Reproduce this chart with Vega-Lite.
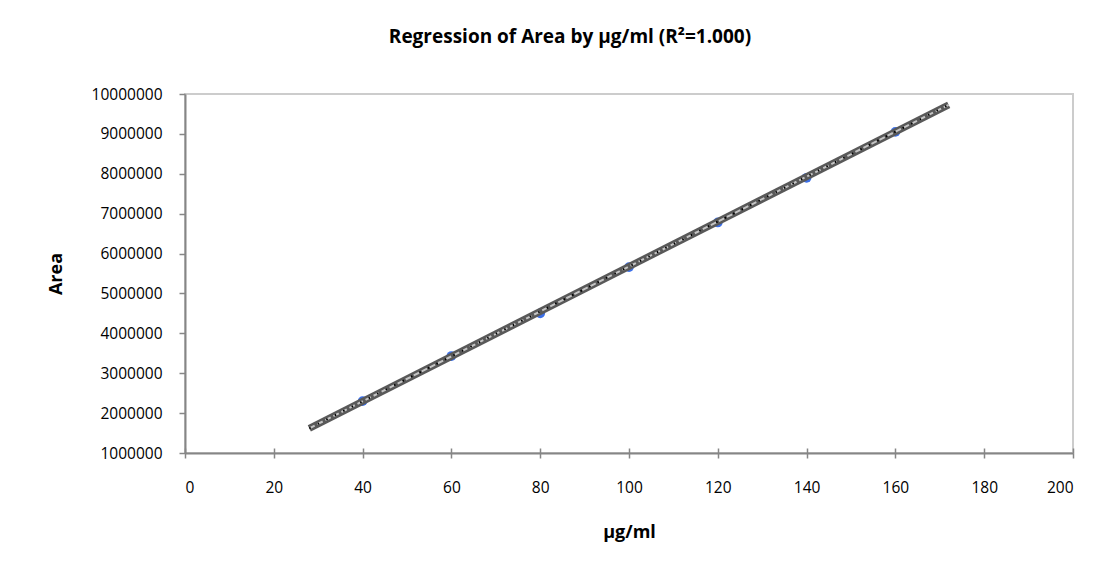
{
  "$schema": "https://vega.github.io/schema/vega-lite/v6.json",
  "width": 888,
  "height": 359,
  "autosize": "none",
  "padding": {"left": 185, "top": 94, "right": 30, "bottom": 116},
  "background": "white",
  "config": {
    "view": {"stroke": "#cccccc", "strokeWidth": 2},
    "font": "Open Sans"
  },
  "title": {
    "text": "Regression of Area by µg/ml (R²=1.000)",
    "font": "Open Sans",
    "fontSize": 19,
    "fontWeight": "bold",
    "color": "#000000",
    "anchor": "middle",
    "frame": "group",
    "dx": -59,
    "offset": 40
  },
  "datasets": {
    "points": [
      {"conc": 40, "area": 2300000},
      {"conc": 60, "area": 3430000},
      {"conc": 80, "area": 4500000},
      {"conc": 100, "area": 5660000},
      {"conc": 120, "area": 6780000},
      {"conc": 140, "area": 7900000},
      {"conc": 160, "area": 9050000}
    ],
    "fit": [
      {"conc": 28, "area": 1620000},
      {"conc": 172, "area": 9730000}
    ]
  },
  "encoding": {
    "y": {
      "field": "area", "type": "quantitative",
      "scale": {"domain": [1000000, 10000000], "nice": false, "zero": false},
      "axis": {
        "values": [1000000, 2000000, 3000000, 4000000, 5000000, 6000000, 7000000, 8000000, 9000000, 10000000],
        "format": "d",
        "grid": false,
        "labelOverlap": false,
        "domainColor": "#868686", "domainWidth": 2,
        "tickColor": "#868686", "tickWidth": 1.5, "tickSize": 6,
        "labelFontSize": 15.5, "labelColor": "#000000", "labelPadding": 17,
        "labelFont": "Open Sans",
        "title": "Area", "titleFontSize": 18, "titleFontWeight": "bold",
        "titleColor": "#000000", "titlePadding": 26, "titleFont": "Open Sans"
      }
    }
  },
  "layer": [
    {
      "data": {"name": "points"},
      "mark": {"type": "point", "filled": true, "color": "#3b6fe8", "opacity": 1, "size": 95},
      "encoding": {
        "x": {
          "field": "conc", "type": "quantitative",
          "scale": {"domain": [0, 200], "nice": false, "zero": false},
          "axis": {
            "values": [0, 20, 40, 60, 80, 100, 120, 140, 160, 180, 200],
            "format": "d",
            "grid": false,
            "labelOverlap": false,
            "domainColor": "#868686", "domainWidth": 2,
            "tickColor": "#868686", "tickWidth": 1.5, "tickSize": 5,
            "labelFontSize": 15.5, "labelColor": "#000000", "labelPadding": 22,
            "labelFont": "Open Sans",
            "title": "µg/ml", "titleFontSize": 18, "titleFontWeight": "bold",
            "titleColor": "#000000", "titlePadding": 28, "titleFont": "Open Sans"
          }
        }
      }
    },
    {
      "data": {"name": "fit"},
      "mark": {"type": "line", "color": "#595959", "strokeWidth": 7, "strokeCap": "butt"},
      "encoding": {
        "x": {"field": "conc", "type": "quantitative", "axis": null}
      }
    },
    {
      "data": {"name": "fit"},
      "mark": {"type": "line", "color": "#c4c4c4", "strokeWidth": 2, "strokeDash": [6, 3], "strokeCap": "butt"},
      "encoding": {
        "x": {"field": "conc", "type": "quantitative", "axis": null}
      }
    },
    {
      "data": {"name": "fit"},
      "mark": {"type": "line", "color": "#000000", "strokeWidth": 2, "strokeDash": [1.5, 8], "strokeCap": "butt"},
      "encoding": {
        "x": {
          "field": "conc", "type": "quantitative",
          "axis": {
            "orient": "bottom", "offset": -5,
            "values": [0, 20, 40, 60, 80, 100, 120, 140, 160, 180, 200],
            "domain": false, "labels": false, "grid": false, "title": null,
            "tickColor": "#868686", "tickWidth": 1.5, "tickSize": 5
          }
        }
      }
    }
  ],
  "resolve": {"axis": {"x": "independent"}}
}
